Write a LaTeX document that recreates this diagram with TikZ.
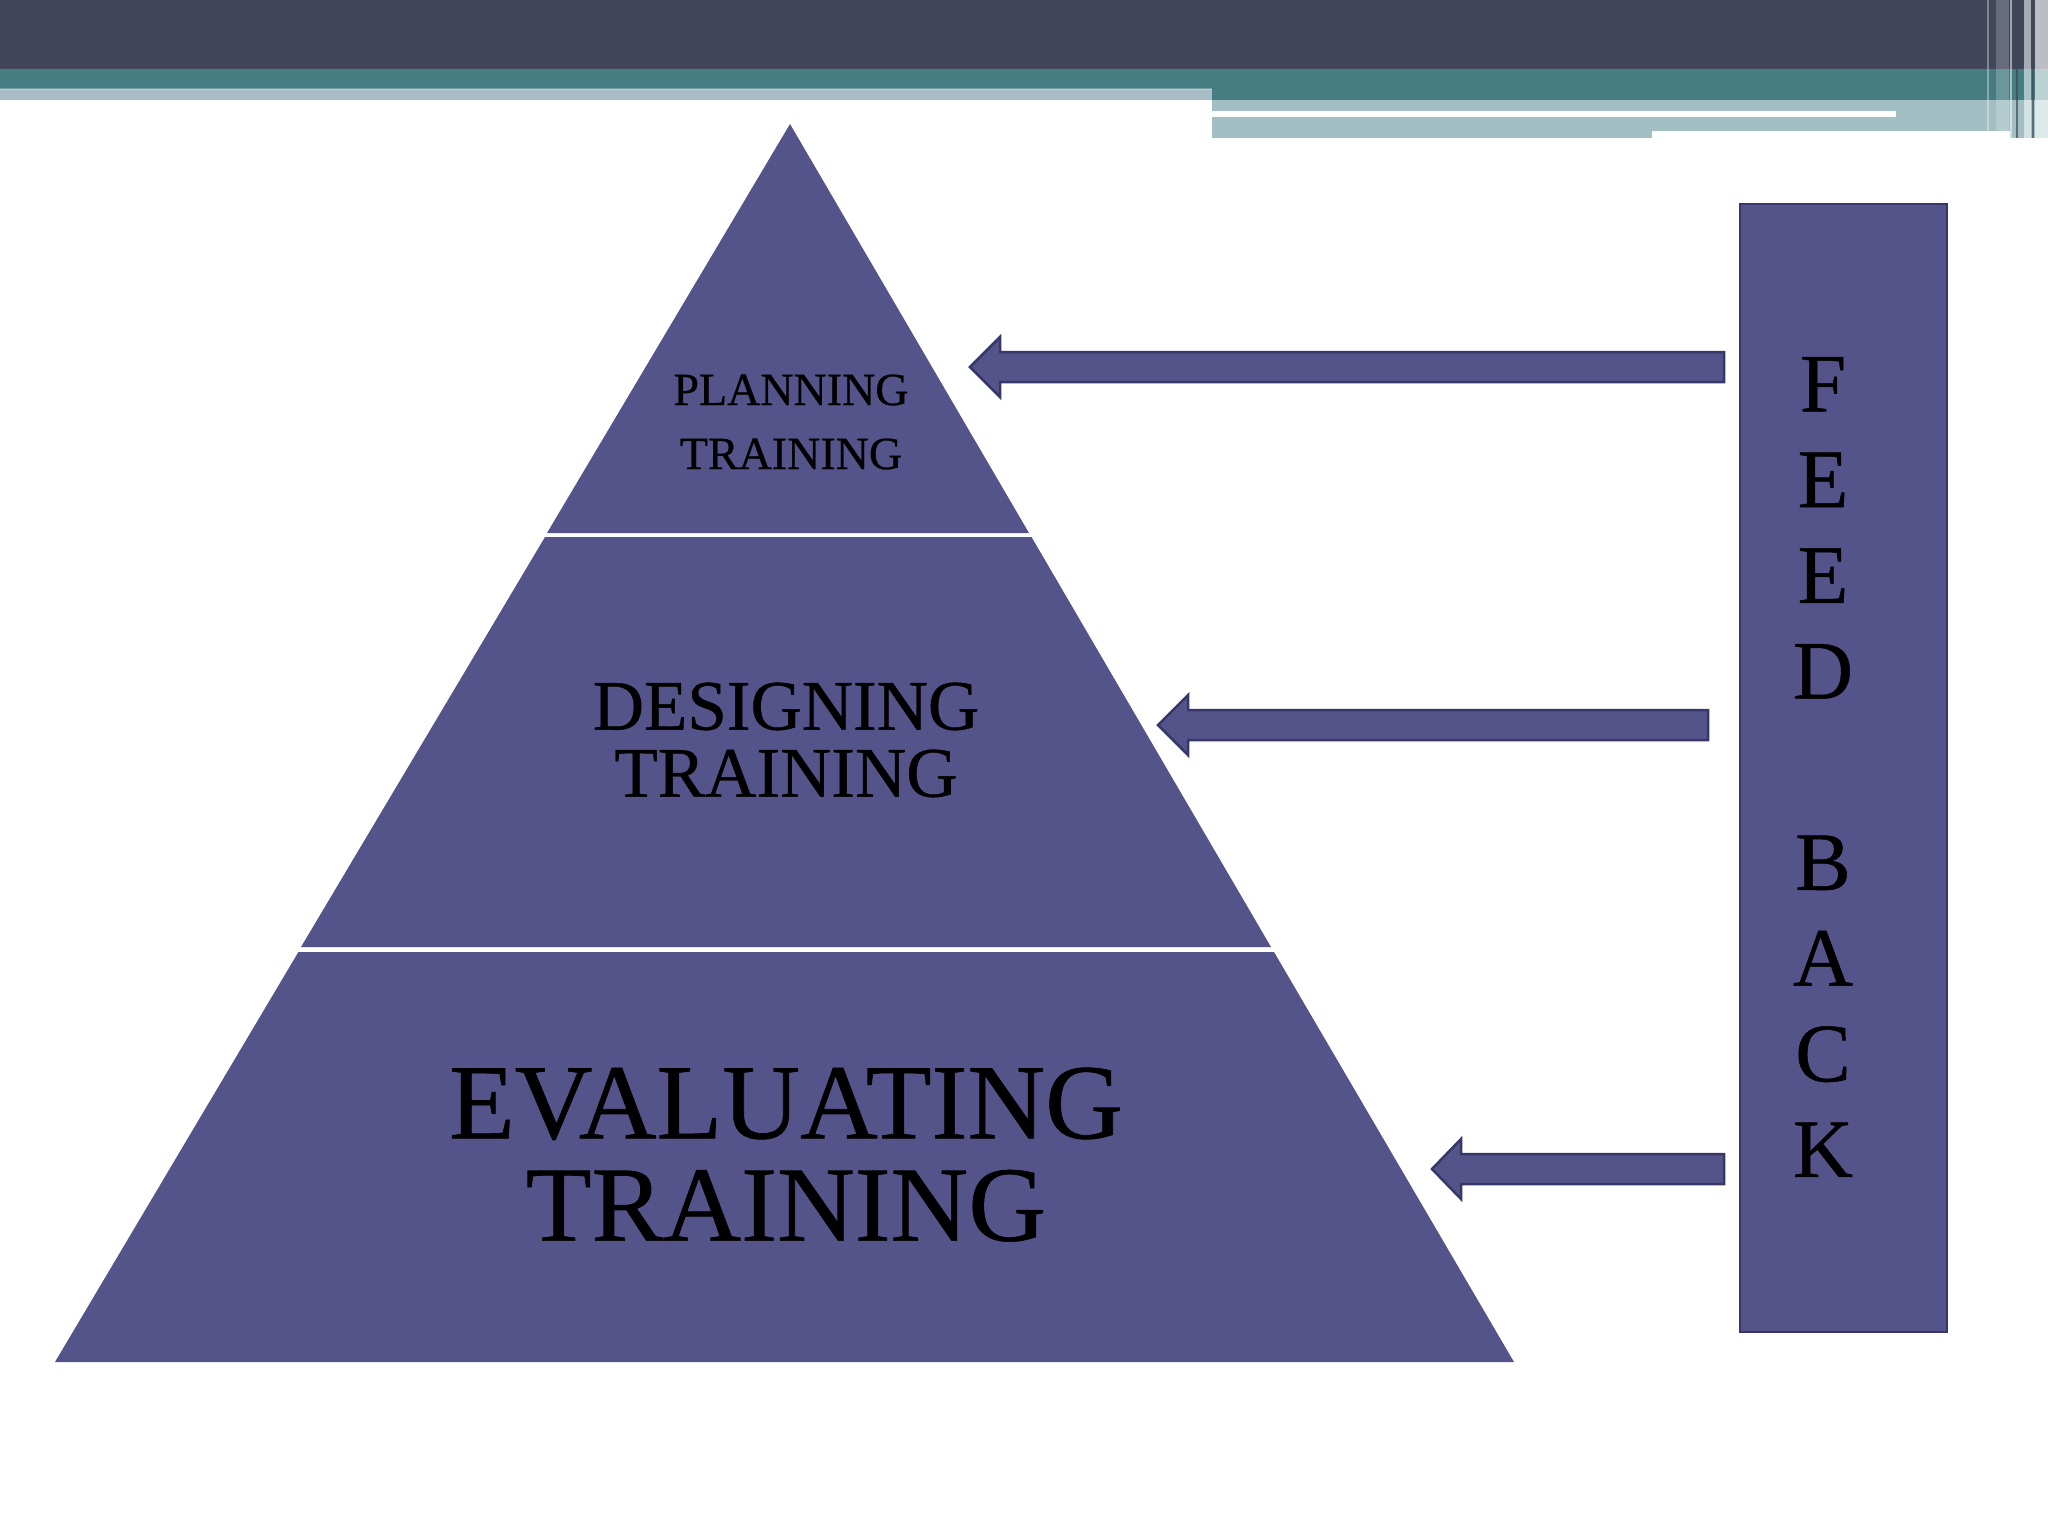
\documentclass[tikz,border=0pt]{standalone}
\usepackage{fontspec}
\setmainfont{Liberation Serif}
\newfontfamily\heavy[FakeBold=0.6]{Liberation Serif}
\definecolor{pyr}{HTML}{55548A}
\definecolor{pyredge}{HTML}{38376A}
\definecolor{barDark}{HTML}{41465A}
\definecolor{barTeal}{HTML}{467D83}
\definecolor{barGrey}{HTML}{A9BDC6}
\definecolor{barLight}{HTML}{A2C0C3}
\tikzset{
  tier/.style={fill=pyr, draw=none},
  fbarrow/.style={fill=pyr, draw=pyredge, line width=2.5pt, line join=miter},
  fbbox/.style={fill=pyr, draw=pyredge, line width=2.5pt},
  tiertext/.style={align=center, text=black, inner sep=0pt},
}
\begin{document}
\begin{tikzpicture}[x=1pt,y=-1pt]
\useasboundingbox (0,0) rectangle (2048,1536);
\fill[white] (0,0) rectangle (2048,1536);
% header bars
\fill[barDark] (0,0) rectangle (2048,69);
\fill[barTeal] (0,69) rectangle (2048,100);
\fill[barGrey] (0,89) rectangle (1212,100);
\fill[white,opacity=.25] (0,88) rectangle (1212,90);
\fill[barLight] (1212,100) rectangle (2010,131);
\fill[barLight] (1212,131) rectangle (1652,138);
\fill[barLight] (2010,100) rectangle (2048,138);
\fill[white] (1212,111) rectangle (1896,117);
% right stripes
\fill[white,opacity=.35] (1987,0) rectangle (1989,131);
\fill[white,opacity=.2] (1996,0) rectangle (2009,131);
\fill[white,opacity=.5] (2010,0) rectangle (2012,138);
\fill[white,opacity=.55] (2024,0) rectangle (2031,138);
\fill[white,opacity=.65] (2035,0) rectangle (2048,138);
\fill[barDark,opacity=.7] (2016,0) rectangle (2018,138);
\fill[barDark,opacity=.7] (2032,0) rectangle (2034,138);
% pyramid tiers
\fill[tier] (790,124) -- (1029,533) -- (547,533) -- cycle;
\fill[tier] (545,537) -- (1031.5,537) -- (1271,947) -- (301,947) -- cycle;
\fill[tier] (298.4,952) -- (1274,952) -- (1514,1362) -- (55,1362) -- cycle;
% tier labels
\node[tiertext, font=\heavy\fontsize{46}{64}\selectfont] (plan) at (791,422) {PLANNING\\TRAINING};
\node[tiertext, font=\heavy\fontsize{71}{67}\selectfont] (design) at (786,740) {DESIGNING\\TRAINING};
\node[tiertext] (eval) at (786,1169) {\scalebox{1.11}[1.1]{\heavy\fontsize{97}{93}\selectfont\begin{tabular}{@{}c@{}}EVALUATING\\TRAINING\end{tabular}}};
% feedback box
\draw[fbbox] (1740,204) rectangle (1947,1332);
\node[tiertext, font=\heavy\fontsize{83}{95.7}\selectfont] (fb) at (1823,767) {F\\E\\E\\D\\\mbox{}\\B\\A\\C\\K};
\coordinate (t1) at (970,367);
\coordinate (t2) at (1158,725);
\coordinate (t3) at (1432,1169);
% feedback arrows
\draw[fbarrow] (t1) -- ++(30,-30) -- ++(0,15) -- ++(724,0) -- ++(0,30) -- ++(-724,0) -- ++(0,15) -- cycle;
\draw[fbarrow] (t2) -- ++(30,-30) -- ++(0,15) -- ++(520,0) -- ++(0,30) -- ++(-520,0) -- ++(0,15) -- cycle;
\draw[fbarrow] (t3) -- ++(29,-30) -- ++(0,15) -- ++(263,0) -- ++(0,30) -- ++(-263,0) -- ++(0,15) -- cycle;
\end{tikzpicture}
\end{document}
